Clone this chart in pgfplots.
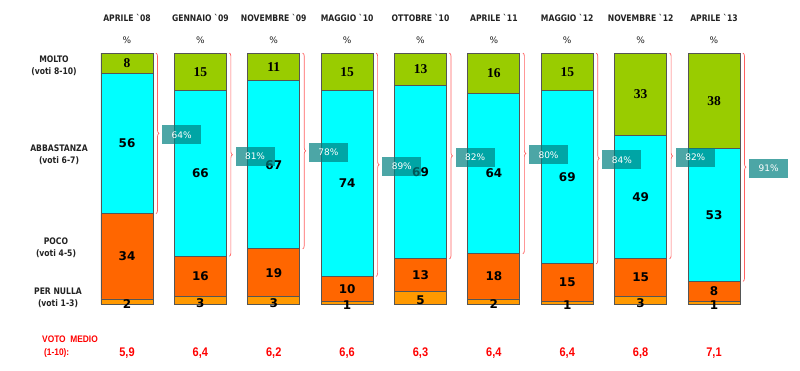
\documentclass[border=0pt]{standalone}
\usepackage{fontspec}
\setmainfont{DejaVu Sans}
\newfontfamily\hdr[FakeStretch=0.85]{DejaVu Sans}
\newfontfamily\serifb{Liberation Serif}
\newfontfamily\redf[FakeStretch=0.88]{Liberation Sans}
\usepackage{pgfplots}
\usepackage{pgfplotstable}
\pgfplotsset{compat=1.18}
\usetikzlibrary{decorations.pathreplacing}
\definecolor{cgreen}{HTML}{99CC00}
\definecolor{ccyan}{HTML}{00FFFF}
\definecolor{corange}{HTML}{FF6600}
\definecolor{clight}{HTML}{FF9900}
\definecolor{edge}{HTML}{555555}
\definecolor{boxteal}{RGB}{0,128,128}
\definecolor{bracered}{HTML}{FF6060}
\definecolor{txt}{HTML}{222222}

\pgfplotstableread{
x per poco abb molto tot voto
0 2 34 56 8 64 5,9
1 3 16 66 15 81 6,4
2 3 19 67 11 78 6,2
3 1 10 74 15 89 6,6
4 5 13 69 13 82 6,3
5 2 18 64 16 80 6,4
6 1 15 69 15 84 6,4
7 3 15 49 33 82 6,8
8 1 8 53 38 91 7,1
}\data

\pgfplotsset{
  frame/.style={at={(0,0)}, anchor=south west, scale only axis,
    width=800pt, height=370pt, xmin=-1.7308, xmax=9.172,
    ymin=-26.29, ymax=121.12, hide axis, clip=false},
  lbl/.style={draw=none, nodes near coords, point meta=explicit symbolic,
    every node near coord/.append style={anchor=center, text=black, inner sep=0pt}},
}

\begin{document}
\begin{tikzpicture}
\path[use as bounding box] (0,0) rectangle (800pt,370pt);
\begin{axis}[frame, ybar stacked, bar width=52pt]
\addplot[fill=clight, draw=edge, line width=0.8pt] table[x=x,y=per]{\data};
\addplot[fill=corange, draw=edge, line width=0.8pt] table[x=x,y=poco]{\data};
\addplot[fill=ccyan, draw=edge, line width=0.8pt] table[x=x,y=abb]{\data};
\addplot[fill=cgreen, draw=edge, line width=0.8pt] table[x=x,y=molto]{\data};
\end{axis}
\begin{axis}[frame]
% braces
\addplot[bracered, line width=0.7pt, decorate, decoration={brace, amplitude=3pt}] coordinates {(0.395,100) (0.395,36)};
\addplot[bracered, line width=0.7pt, decorate, decoration={brace, amplitude=3pt}] coordinates {(1.395,100) (1.395,19)};
\addplot[bracered, line width=0.7pt, decorate, decoration={brace, amplitude=3pt}] coordinates {(2.395,100) (2.395,22)};
\addplot[bracered, line width=0.7pt, decorate, decoration={brace, amplitude=3pt}] coordinates {(3.395,100) (3.395,11)};
\addplot[bracered, line width=0.7pt, decorate, decoration={brace, amplitude=3pt}] coordinates {(4.395,100) (4.395,18)};
\addplot[bracered, line width=0.7pt, decorate, decoration={brace, amplitude=3pt}] coordinates {(5.395,100) (5.395,20)};
\addplot[bracered, line width=0.7pt, decorate, decoration={brace, amplitude=3pt}] coordinates {(6.395,100) (6.395,16)};
\addplot[bracered, line width=0.7pt, decorate, decoration={brace, amplitude=3pt}] coordinates {(7.395,100) (7.395,18)};
\addplot[bracered, line width=0.7pt, decorate, decoration={brace, amplitude=3pt}] coordinates {(8.395,100) (8.395,9)};
% segment labels
\addplot[lbl, every node near coord/.append style={font=\fontsize{12}{12}\selectfont\bfseries}]
  table[x=x, y expr={\thisrow{per}/2-1}, meta=per]{\data};
\addplot[lbl, every node near coord/.append style={font=\fontsize{12}{12}\selectfont\bfseries}]
  table[x=x, y expr={\thisrow{per}+\thisrow{poco}/2}, meta=poco]{\data};
\addplot[lbl, every node near coord/.append style={font=\fontsize{12}{12}\selectfont\bfseries}]
  table[x=x, y expr={\thisrow{per}+\thisrow{poco}+\thisrow{abb}/2}, meta=abb]{\data};
\addplot[lbl, every node near coord/.append style={font=\serifb\fontsize{13.5}{13.5}\selectfont\bfseries}]
  table[x=x, y expr={100-\thisrow{molto}/2}, meta=molto]{\data};
% total boxes
\addplot[lbl, nodes near coords={\pgfplotspointmeta\%},
  every node near coord/.append style={fill=boxteal, fill opacity=0.7, text opacity=1, text=white,
    minimum width=39pt, minimum height=19pt, font=\fontsize{9}{9}\selectfont}]
  table[x expr={\thisrow{x}+0.745}, y expr={(100+\thisrow{per}+\thisrow{poco})/2-0.6}, meta=tot]{\data};
% voto medio
\addplot[lbl, every node near coord/.append style={text=red, font=\redf\fontsize{12.5}{12.5}\selectfont\bfseries}]
  table[x=x, y expr={-19.5}, meta=voto]{\data};
\end{axis}
% headers
\foreach \i/\t in {0/{APRILE `08},1/{GENNAIO `09},2/{NOVEMBRE `09},3/{MAGGIO `10},4/{OTTOBRE `10},5/{APRILE `11},6/{MAGGIO `12},7/{NOVEMBRE `12},8/{APRILE `13}}{
  \node[text=txt, font=\hdr\fontsize{9}{9}\selectfont\bfseries, inner sep=0pt] at ({127pt+73.375pt*\i},352pt) {\t};
  \node[text=txt, font=\fontsize{9}{9}\selectfont, inner sep=0pt] at ({127pt+73.375pt*\i},329.5pt) {\%};
}
% left labels
\node[text=txt, align=center, font=\hdr\fontsize{9}{12}\selectfont\bfseries] at (54pt,304pt) {MOLTO\\(voti 8-10)};
\node[text=txt, align=center, font=\hdr\fontsize{9}{12}\selectfont\bfseries] at (59pt,215pt) {ABBASTANZA\\(voti 6-7)};
\node[text=txt, align=center, font=\hdr\fontsize{9}{12}\selectfont\bfseries] at (56pt,122pt) {POCO\\(voti 4-5)};
\node[text=txt, align=center, font=\hdr\fontsize{9}{12}\selectfont\bfseries] at (58pt,72pt) {PER NULLA\\(voti 1-3)};
\node[text=red, anchor=west, inner sep=0pt, font=\redf\fontsize{9.5}{9.5}\selectfont\bfseries] at (42pt,31pt) {VOTO\ \ MEDIO};
\node[text=red, anchor=west, inner sep=0pt, font=\redf\fontsize{9.5}{9.5}\selectfont\bfseries] at (44pt,17pt) {(1-10):};
\end{tikzpicture}
\end{document}
